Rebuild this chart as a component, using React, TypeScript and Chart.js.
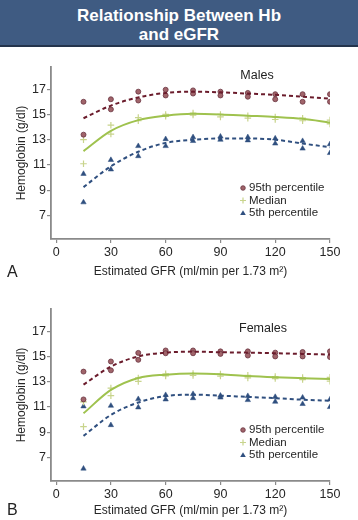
import React, { useEffect, useRef } from "react";
import { Chart, registerables } from "chart.js";

Chart.register(...registerables);

const FONT = "'Liberation Sans', Arial, Helvetica, sans-serif";

// ---- data ----
const gfr = [15, 30, 45, 60, 75, 90, 105, 120, 135, 150];
const xTicks = [0, 30, 60, 90, 120, 150];
const yTicks = [7, 9, 11, 13, 15, 17];

// Males
const m95Hi = [16.0, 16.2, 16.8, 16.95, 16.9, 16.8, 16.7, 16.6, 16.6, 16.6];
const m95Lo = [13.4, 15.4, 16.1, 16.5, 16.65, 16.5, 16.4, 16.2, 16.0, 16.0];
const m95Fit = [14.7, 15.7, 16.35, 16.7, 16.8, 16.75, 16.65, 16.55, 16.4, 16.25];
const mMedHi = [13.0, 14.15, 14.75, 15.0, 15.1, 15.0, 14.9, 14.8, 14.7, 14.55];
const mMedLo = [11.1, 13.45, 14.5, 14.85, 14.95, 14.8, 14.7, 14.6, 14.5, 14.25];
const mMedFit = [12.1, 13.7, 14.55, 14.9, 15.05, 15.0, 14.9, 14.8, 14.65, 14.35];
const m5Hi = [10.3, 11.4, 12.5, 13.05, 13.2, 13.25, 13.2, 13.1, 12.9, 12.65];
const m5Lo = [8.05, 10.65, 11.7, 12.5, 12.9, 13.0, 12.95, 12.7, 12.3, 11.95];
const m5Fit = [9.25, 10.9, 12.05, 12.75, 13.0, 13.1, 13.1, 13.0, 12.7, 12.4];

// Females
const f95Hi = [13.8, 14.6, 15.28, 15.47, 15.47, 15.4, 15.4, 15.3, 15.35, 15.4];
const f95Lo = [11.6, 13.9, 14.73, 15.25, 15.25, 15.2, 15.07, 15.0, 15.0, 14.95];
const f95Fit = [12.77, 14.2, 15.0, 15.3, 15.38, 15.33, 15.3, 15.25, 15.2, 15.15];
const fMedHi = [11.4, 12.5, 13.3, 13.62, 13.65, 13.6, 13.5, 13.4, 13.33, 13.35];
const fMedLo = [9.45, 11.9, 13.03, 13.46, 13.5, 13.45, 13.3, 13.25, 13.17, 13.05];
const fMedFit = [10.5, 12.35, 13.3, 13.56, 13.65, 13.6, 13.45, 13.35, 13.28, 13.22];
const f5Hi = [11.05, 11.1, 11.63, 11.95, 12.03, 11.9, 11.87, 11.8, 11.75, 11.6];
const f5Lo = [6.13, 9.57, 10.97, 11.6, 11.7, 11.75, 11.55, 11.42, 11.24, 11.0];
const f5Fit = [8.72, 10.37, 11.36, 11.87, 11.98, 11.9, 11.8, 11.7, 11.58, 11.5];

const legendLabels = ["95th percentile", "Median", "5th percentile"];

// ---- styles ----
const C95 = { fill: "#a0646a", stroke: "#6a3440", line: "#6b1c2c" };
const CMED = { stroke: "#c8d48c", line: "#9fc24e" };
const C5 = { fill: "#2f4f7f", line: "#2f4f7f" };

const pts = (ys: number[]) => gfr.map((x, i) => ({ x, y: ys[i] }));

const overlayPlugin = {
  id: "overlay",
  afterDraw(chart: any, _args: any, opts: any) {
    const ctx = chart.ctx as CanvasRenderingContext2D;
    ctx.save();
    ctx.fillStyle = "#222";
    ctx.textBaseline = "middle";
    ctx.font = `12.5px ${FONT}`;
    ctx.textAlign = "center";
    ctx.fillText(opts.group, opts.groupX, opts.groupY);
    ctx.font = `16px ${FONT}`;
    ctx.textAlign = "left";
    ctx.fillText(opts.letter, 7, opts.letterY);
    const mx = 243;
    const tx = 249;
    const rows = [140, 152.5, 165];
    ctx.font = `11.5px ${FONT}`;
    legendLabels.forEach((t, i) => {
      ctx.fillStyle = "#262626";
      ctx.fillText(t, tx, rows[i]);
    });
    ctx.beginPath();
    ctx.arc(mx, rows[0], 2.3, 0, Math.PI * 2);
    ctx.fillStyle = C95.fill;
    ctx.fill();
    ctx.strokeStyle = C95.stroke;
    ctx.lineWidth = 0.8;
    ctx.stroke();
    ctx.beginPath();
    ctx.strokeStyle = CMED.stroke;
    ctx.lineWidth = 1.2;
    ctx.moveTo(mx - 3, rows[1]);
    ctx.lineTo(mx + 3, rows[1]);
    ctx.moveTo(mx, rows[1] - 3);
    ctx.lineTo(mx, rows[1] + 3);
    ctx.stroke();
    ctx.beginPath();
    ctx.fillStyle = C5.fill;
    ctx.moveTo(mx, rows[2] - 2.8);
    ctx.lineTo(mx + 2.8, rows[2] + 2);
    ctx.lineTo(mx - 2.8, rows[2] + 2);
    ctx.closePath();
    ctx.fill();
    ctx.restore();
  },
};

type PanelProps = {
  top: number;
  height: number;
  group: string;
  groupX: number;
  groupY: number;
  letter: string;
  letterY: number;
  titlePad: number;
  p95Hi: number[];
  p95Lo: number[];
  p95Fit: number[];
  medHi: number[];
  medLo: number[];
  medFit: number[];
  p5Hi: number[];
  p5Lo: number[];
  p5Fit: number[];
};

function Panel(props: PanelProps) {
  const ref = useRef<HTMLCanvasElement | null>(null);
  useEffect(() => {
    if (!ref.current) return;
    const H = props.height;
    const chartBottom = 191;
    const lineBase = {
      type: "line" as const,
      showLine: true,
      pointRadius: 0,
      borderWidth: 2,
      tension: 0.4,
      cubicInterpolationMode: "monotone" as const,
      fill: false,
    };
    const chart = new Chart(ref.current, {
      type: "scatter",
      data: {
        datasets: [
          { ...lineBase, data: pts(props.p95Fit), borderColor: C95.line, borderDash: [4, 3] },
          { ...lineBase, data: pts(props.medFit), borderColor: CMED.line },
          { ...lineBase, data: pts(props.p5Fit), borderColor: C5.line, borderDash: [4, 3] },
          {
            data: [...pts(props.p95Hi), ...pts(props.p95Lo)],
            pointStyle: "circle",
            pointRadius: 2.5,
            backgroundColor: C95.fill,
            borderColor: C95.stroke,
            borderWidth: 0.8,
          },
          {
            data: [...pts(props.medHi), ...pts(props.medLo)],
            pointStyle: "cross",
            pointRadius: 3.3,
            backgroundColor: CMED.stroke,
            borderColor: CMED.stroke,
            borderWidth: 1.2,
          },
          {
            data: [...pts(props.p5Hi), ...pts(props.p5Lo)],
            pointStyle: "triangle",
            pointRadius: 3.1,
            backgroundColor: C5.fill,
            borderColor: C5.fill,
            borderWidth: 0.5,
          },
        ] as any,
      },
      options: {
        animation: false,
        responsive: false,
        devicePixelRatio: 1,
        events: [],
        layout: { padding: { top: 19, right: 28, left: 0, bottom: 0 } },
        plugins: {
          legend: { display: false },
          tooltip: { enabled: false },
          overlay: {
            group: props.group,
            groupX: props.groupX,
            groupY: props.groupY,
            letter: props.letter,
            letterY: props.letterY,
          },
        } as any,
        scales: {
          x: {
            type: "linear",
            min: -2.8,
            max: 150,
            afterBuildTicks: (s: any) => {
              s.ticks = xTicks.map((v) => ({ value: v }));
            },
            afterFit: (s: any) => {
              s.height = H - chartBottom;
            },
            grid: {
              drawOnChartArea: false,
              drawTicks: true,
              tickLength: 4,
              color: "#8a8a8a",
              lineWidth: 1.2,
            },
            border: { color: "#8a8a8a", width: 1.8 },
            ticks: {
              font: { family: FONT, size: 12.5 },
              color: "#262626",
              padding: 2,
              maxRotation: 0,
              autoSkip: false,
            },
            title: {
              display: true,
              text: "Estimated GFR (ml/min per 1.73 m²)",
              font: { family: FONT, size: 12 },
              color: "#262626",
              padding: { top: 0, bottom: props.titlePad },
            },
          },
          y: {
            type: "linear",
            min: 5.15,
            max: 18.75,
            afterBuildTicks: (s: any) => {
              s.ticks = yTicks.map((v) => ({ value: v }));
            },
            afterFit: (s: any) => {
              s.width = 51;
            },
            grid: {
              drawOnChartArea: false,
              drawTicks: true,
              tickLength: 4,
              color: "#8a8a8a",
              lineWidth: 1.2,
            },
            border: { color: "#8a8a8a", width: 1.8 },
            ticks: {
              font: { family: FONT, size: 12.5 },
              color: "#262626",
              padding: 1,
              autoSkip: false,
            },
            title: {
              display: true,
              text: "Hemoglobin (g/dl)",
              font: { family: FONT, size: 12 },
              color: "#262626",
              padding: { top: 14, bottom: 0 },
            },
          },
        },
      },
      plugins: [overlayPlugin],
    });
    return () => chart.destroy();
  }, []);
  return (
    <canvas
      ref={ref}
      width={358}
      height={props.height}
      style={{ position: "absolute", left: 0, top: props.top, width: 358, height: props.height }}
    />
  );
}

export default function App() {
  return (
    <div
      style={{
        position: "fixed",
        left: 0,
        top: 0,
        width: 358,
        height: 520,
        overflow: "hidden",
        background: "#fff",
      }}
    >
      <div
        style={{
          position: "absolute",
          left: 0,
          top: 0,
          width: 358,
          height: 47,
          background: "#3f5b82",
          borderBottom: "2px solid #24344c",
          color: "#fff",
          fontFamily: FONT,
          fontWeight: "bold",
          fontSize: 17,
          lineHeight: "19px",
          textAlign: "center",
          paddingTop: 6,
          boxSizing: "border-box",
        }}
      >
        <div>Relationship Between Hb</div>
        <div>and eGFR</div>
      </div>
      <Panel
        top={48}
        height={242}
        group="Males"
        groupX={257}
        groupY={28}
        letter="A"
        letterY={225}
        titlePad={10.8}
        p95Hi={m95Hi}
        p95Lo={m95Lo}
        p95Fit={m95Fit}
        medHi={mMedHi}
        medLo={mMedLo}
        medFit={mMedFit}
        p5Hi={m5Hi}
        p5Lo={m5Lo}
        p5Fit={m5Fit}
      />
      <Panel
        top={290}
        height={230}
        group="Females"
        groupX={263}
        groupY={39}
        letter="B"
        letterY={221}
        titlePad={2.1}
        p95Hi={f95Hi}
        p95Lo={f95Lo}
        p95Fit={f95Fit}
        medHi={fMedHi}
        medLo={fMedLo}
        medFit={fMedFit}
        p5Hi={f5Hi}
        p5Lo={f5Lo}
        p5Fit={f5Fit}
      />
    </div>
  );
}
